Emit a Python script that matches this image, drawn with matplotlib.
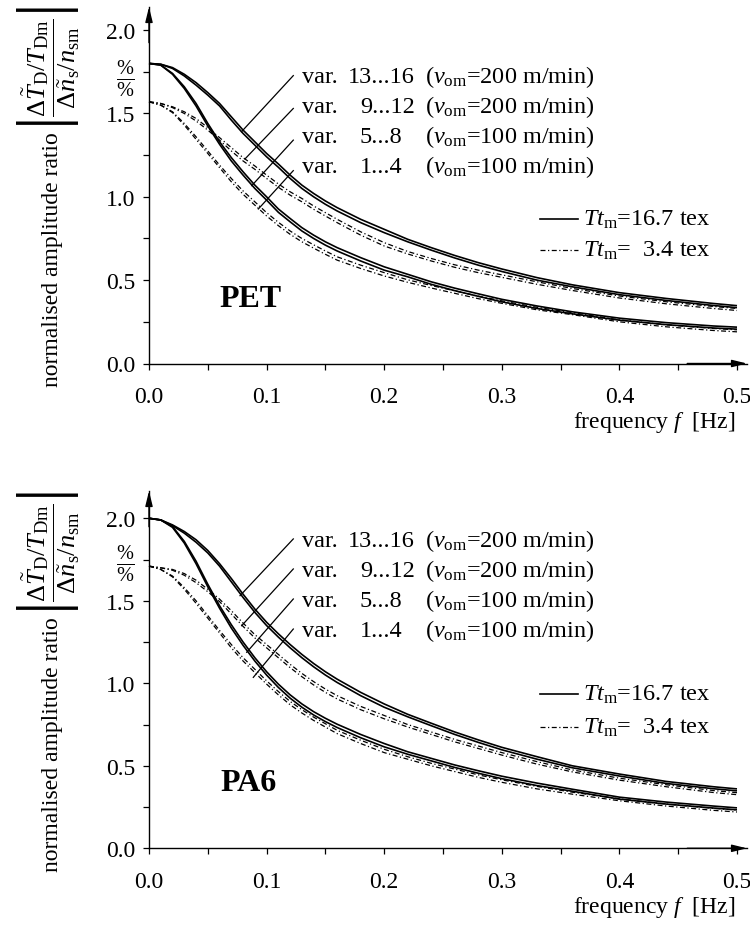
import matplotlib
matplotlib.use('Agg')
import matplotlib.pyplot as plt
from matplotlib.ticker import MultipleLocator

plt.rcParams['font.family'] = ['Liberation Serif', 'DejaVu Serif']
plt.rcParams['mathtext.fontset'] = 'custom'
plt.rcParams['mathtext.rm'] = 'Liberation Serif'
plt.rcParams['mathtext.it'] = 'Liberation Serif:italic'
plt.rcParams['mathtext.bf'] = 'Liberation Serif:bold'
FS = 17

# ---------------- data ----------------
freq = [0, .01, .02, .03, .04, .05, .06, .07, .08, .09, .10, .11, .12, .13, .14,
        .15, .16, .18, .20, .22, .24, .26, .28, .30, .33, .36, .40, .44, .48, .50]

# PET
pet_upper_solid_a = [1.80, 1.795, 1.775, 1.735, 1.685, 1.625, 1.56, 1.48, 1.40, 1.33, 1.26, 1.197, 1.13, 1.07, 1.02,
                     0.975, 0.935, 0.865, 0.805, 0.745, 0.695, 0.648, 0.605, 0.567, 0.515, 0.472, 0.425, 0.39, 0.36, 0.347]
pet_upper_solid_b = [1.80, 1.795, 1.77, 1.725, 1.67, 1.61, 1.545, 1.46, 1.38, 1.31, 1.24, 1.177, 1.11, 1.05, 1.0,
                     0.955, 0.915, 0.845, 0.785, 0.73, 0.68, 0.633, 0.59, 0.552, 0.50, 0.46, 0.413, 0.378, 0.348, 0.335]
pet_lower_solid_a = [1.80, 1.79, 1.74, 1.66, 1.56, 1.44, 1.33, 1.235, 1.15, 1.07, 1.0, 0.927, 0.87, 0.815, 0.77,
                     0.73, 0.695, 0.635, 0.58, 0.535, 0.49, 0.452, 0.418, 0.385, 0.345, 0.31, 0.272, 0.245, 0.225, 0.218]
pet_lower_solid_b = [1.80, 1.79, 1.735, 1.65, 1.545, 1.425, 1.315, 1.215, 1.13, 1.05, 0.98, 0.907, 0.85, 0.795, 0.75,
                     0.71, 0.675, 0.615, 0.56, 0.52, 0.475, 0.437, 0.403, 0.37, 0.33, 0.298, 0.26, 0.233, 0.213, 0.206]
pet_upper_dd_a = [1.57, 1.56, 1.54, 1.51, 1.47, 1.415, 1.355, 1.295, 1.235, 1.185, 1.13, 1.077, 1.03, 0.99, 0.945,
                  0.905, 0.865, 0.79, 0.725, 0.672, 0.63, 0.592, 0.56, 0.532, 0.49, 0.45, 0.405, 0.37, 0.342, 0.33]
pet_upper_dd_b = [1.57, 1.56, 1.535, 1.50, 1.455, 1.40, 1.34, 1.275, 1.215, 1.165, 1.11, 1.057, 1.01, 0.97, 0.925,
                  0.885, 0.845, 0.77, 0.705, 0.657, 0.615, 0.577, 0.545, 0.517, 0.475, 0.438, 0.393, 0.358, 0.33, 0.318]
pet_lower_dd_a = [1.57, 1.55, 1.51, 1.44, 1.36, 1.275, 1.19, 1.11, 1.035, 0.97, 0.905, 0.847, 0.795, 0.75, 0.712,
                  0.675, 0.64, 0.59, 0.545, 0.502, 0.468, 0.436, 0.404, 0.376, 0.337, 0.305, 0.262, 0.232, 0.21, 0.202]
pet_lower_dd_b = [1.57, 1.55, 1.505, 1.43, 1.345, 1.26, 1.175, 1.09, 1.015, 0.95, 0.885, 0.827, 0.775, 0.73, 0.692,
                  0.655, 0.62, 0.57, 0.525, 0.487, 0.453, 0.421, 0.389, 0.361, 0.322, 0.293, 0.25, 0.22, 0.198, 0.19]

# PA6
pa6_upper_solid_a = [2.00, 1.99, 1.96, 1.92, 1.87, 1.805, 1.725, 1.635, 1.54, 1.45, 1.37, 1.30, 1.235, 1.175, 1.12,
                     1.07, 1.025, 0.945, 0.875, 0.812, 0.758, 0.705, 0.657, 0.612, 0.555, 0.50, 0.45, 0.405, 0.373, 0.36]
pa6_upper_solid_b = [2.00, 1.99, 1.955, 1.91, 1.855, 1.79, 1.71, 1.615, 1.52, 1.43, 1.35, 1.28, 1.215, 1.155, 1.10,
                     1.05, 1.005, 0.925, 0.855, 0.797, 0.743, 0.69, 0.642, 0.597, 0.54, 0.488, 0.438, 0.393, 0.361, 0.348]
pa6_lower_solid_a = [2.00, 1.99, 1.95, 1.86, 1.74, 1.60, 1.47, 1.355, 1.25, 1.155, 1.07, 0.995, 0.93, 0.875, 0.828,
                     0.788, 0.752, 0.69, 0.635, 0.585, 0.545, 0.505, 0.47, 0.437, 0.395, 0.358, 0.31, 0.28, 0.256, 0.245]
pa6_lower_solid_b = [2.00, 1.99, 1.945, 1.85, 1.725, 1.585, 1.455, 1.335, 1.23, 1.135, 1.05, 0.975, 0.91, 0.855, 0.808,
                     0.768, 0.732, 0.67, 0.615, 0.57, 0.53, 0.49, 0.455, 0.422, 0.38, 0.346, 0.298, 0.268, 0.244, 0.233]
pa6_upper_dd_a = [1.71, 1.70, 1.69, 1.665, 1.625, 1.57, 1.51, 1.44, 1.365, 1.295, 1.235, 1.175, 1.115, 1.06, 1.01,
                  0.965, 0.925, 0.86, 0.805, 0.75, 0.705, 0.66, 0.62, 0.58, 0.525, 0.475, 0.425, 0.385, 0.35, 0.337]
pa6_upper_dd_b = [1.71, 1.70, 1.685, 1.655, 1.61, 1.555, 1.495, 1.42, 1.345, 1.275, 1.215, 1.155, 1.095, 1.04, 0.99,
                  0.945, 0.905, 0.84, 0.785, 0.735, 0.69, 0.645, 0.605, 0.565, 0.51, 0.463, 0.413, 0.373, 0.338, 0.325]
pa6_lower_dd_a = [1.71, 1.69, 1.65, 1.58, 1.50, 1.41, 1.32, 1.235, 1.155, 1.085, 1.015, 0.95, 0.89, 0.84, 0.795,
                  0.755, 0.715, 0.655, 0.60, 0.555, 0.515, 0.48, 0.445, 0.415, 0.375, 0.34, 0.30, 0.268, 0.242, 0.232]
pa6_lower_dd_b = [1.71, 1.69, 1.645, 1.57, 1.485, 1.395, 1.305, 1.215, 1.135, 1.065, 0.995, 0.93, 0.87, 0.82, 0.775,
                  0.735, 0.695, 0.635, 0.58, 0.54, 0.50, 0.465, 0.43, 0.40, 0.36, 0.328, 0.288, 0.256, 0.23, 0.22]

var_labels = ['13...16', '9...12', '5...8', '1...4']
var_speeds = [200, 200, 100, 100]
x_ticks = [0.0, 0.1, 0.2, 0.3, 0.4, 0.5]
y_ticks = [0.0, 0.5, 1.0, 1.5, 2.0]
legend_labels = [r'$Tt_{\rm m}$=16.7 tex', r'$Tt_{\rm m}$=  3.4 tex']
materials = ['PET', 'PA6']

# ---------------- figure ----------------
W, H = 750, 929
fig = plt.figure(figsize=(W / 100, H / 100), dpi=100)

DD = (4, 2, 1, 2)


def make_axes(y0_px, ytop_px, ppu):
    ax = fig.add_axes([149 / W, (H - y0_px) / H, (747 - 149) / W, (y0_px - ytop_px) / H])
    ax.set_xlim(0, (747 - 149) / 1176)
    ax.set_ylim(0, (y0_px - ytop_px) / ppu)
    for s in ('top', 'right'):
        ax.spines[s].set_visible(False)
    for s in ('left', 'bottom'):
        ax.spines[s].set_linewidth(1.0)
    ax.set_xticks(x_ticks)
    ax.set_xticklabels(['%.1f' % v for v in x_ticks])
    ax.xaxis.set_minor_locator(MultipleLocator(0.05))
    ax.set_yticks(y_ticks)
    ax.set_yticklabels(['%.1f' % v for v in y_ticks])
    ax.yaxis.set_minor_locator(MultipleLocator(0.25))
    ax.tick_params(axis='both', which='both', direction='out', length=4, width=0.9, labelsize=FS)
    ax.tick_params(axis='x', which='major', pad=12)
    ax.tick_params(axis='y', which='major', pad=6)
    ax.annotate('', xy=(0, 1), xytext=(0, 0.9), xycoords='axes fraction',
                arrowprops=dict(arrowstyle='-|>,head_length=0.9,head_width=0.22', color='k', lw=1.0,
                                shrinkA=0, shrinkB=0))
    ax.annotate('', xy=(1, 0), xytext=(0.9, 0), xycoords='axes fraction',
                arrowprops=dict(arrowstyle='-|>,head_length=0.9,head_width=0.22', color='k', lw=1.0,
                                shrinkA=0, shrinkB=0))
    return ax


panels = [
    dict(y0=364.5, ytop=8, ppu=166.7,
         solid=[pet_upper_solid_a, pet_upper_solid_b, pet_lower_solid_a, pet_lower_solid_b],
         dd=[pet_upper_dd_a, pet_upper_dd_b, pet_lower_dd_a, pet_lower_dd_b],
         text_base=[1.686, 1.506, 1.326, 1.146],
         line_start=[1.727, 1.53, 1.34, 1.157],
         line_end=[(0.0786, 1.39), (0.0816, 1.227), (0.0874, 1.067), (0.0930, 0.927)],
         leg=[0.867, 0.681], mat=(0.0859, 0.387)),
    dict(y0=849.3, ytop=492, ppu=165.0,
         solid=[pa6_upper_solid_a, pa6_upper_solid_b, pa6_lower_solid_a, pa6_lower_solid_b],
         dd=[pa6_upper_dd_a, pa6_upper_dd_b, pa6_lower_dd_a, pa6_lower_dd_b],
         text_base=[1.832, 1.65, 1.468, 1.286],
         line_start=[1.875, 1.693, 1.511, 1.329],
         line_end=[(0.0774, 1.531), (0.0788, 1.349), (0.0831, 1.188), (0.0887, 1.036)],
         leg=[0.935, 0.735], mat=(0.0845, 0.40)),
]

frac = (r'$\left|\dfrac{\mathit{Δ}\tilde{T}_{\rm D}/T_{\rm Dm}}'
        r'{\mathit{Δ}\tilde{n}_{\rm s}/n_{\rm sm}}\right|$')

for k, p in enumerate(panels):
    ax = make_axes(p['y0'], p['ytop'], p['ppu'])
    for y in p['solid']:
        ax.plot(freq, y, color='k', lw=1.2, solid_capstyle='butt', clip_on=False)
    for y in p['dd']:
        ax.plot(freq, y, color='k', lw=0.9, dashes=DD, clip_on=False)
    # annotations
    for i in range(4):
        x0 = 0.1227
        ax.plot([x0, p['line_end'][i][0]], [p['line_start'][i], p['line_end'][i][1]], color='k', lw=0.9)
        yb = p['text_base'][i]
        ax.text(0.1298, yb, 'var.', fontsize=FS + 0.5, va='baseline', ha='left')
        ax.text(0.1692 if i == 0 else 0.1794, yb, var_labels[i], fontsize=FS + 0.5, va='baseline', ha='left')
        ax.text(0.2347, yb, r'($v_{\rm om}$=%d m/min)' % var_speeds[i], fontsize=FS + 0.5,
                va='baseline', ha='left')
    # legend
    ax.plot([0.3325, 0.365], [p['leg'][0]] * 2, color='k', lw=1.2)
    ax.plot([0.3325, 0.365], [p['leg'][1]] * 2, color='k', lw=0.9, dashes=DD)
    ax.text(0.369, p['leg'][0], legend_labels[0], fontsize=FS + 0.5, va='center', ha='left')
    ax.text(0.369, p['leg'][1], legend_labels[1], fontsize=FS + 0.5, va='center', ha='left')
    ax.text(p['mat'][0], p['mat'][1], materials[k], fontsize=23, fontweight='bold', ha='center', va='center')

    off = 0 if k == 0 else 485
    fig.text(735 / W, 1 - (423 + off) / H, r'frequency $f$  [Hz]', fontsize=FS, ha='right', va='center')
    fig.text(53 / W, 1 - (260 + off) / H, 'normalised amplitude ratio', fontsize=FS, rotation=90,
             ha='center', va='center')
    fig.text(48 / W, 1 - (68 + off) / H, frac, fontsize=FS + 2, rotation=90, ha='center', va='center')
    fig.text(125 / W, 1 - (79 + off) / H, r'$\frac{\%}{\%}$', fontsize=FS + 4, ha='center', va='center')

fig.savefig('out.png', dpi=100)
